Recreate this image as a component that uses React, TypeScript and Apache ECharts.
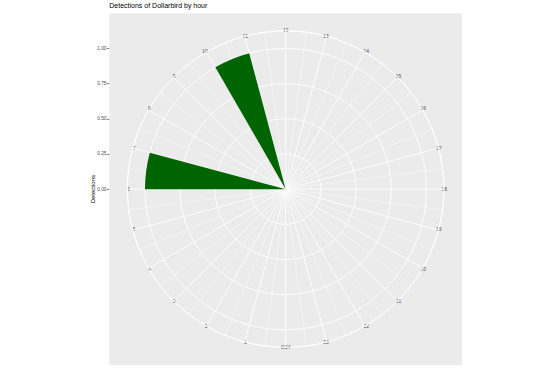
import React, { useEffect, useRef } from "react";
import * as echarts from "echarts";

// ---- data ----
const binStart = [6, 10];          // hour bins with detections
const detections = [1, 1];         // count per bin
const binWidth = 1;                // hours per bin
const hourMax = 24;
const radialBreaks = [0, 0.25, 0.5, 0.75, 1.0];
const titleText = "Detections of Dollarbird by hour";
const yTitle = "Detections";

const FONT = "Liberation Sans, Arial, Helvetica, sans-serif";

export default function App() {
  const ref = useRef<HTMLDivElement>(null);

  useEffect(() => {
    if (!ref.current) return;
    const chart = echarts.init(ref.current, null, { renderer: "svg" });

    const panel = { x: 109.3, y: 13.3, w: 352.7, h: 351.7 };
    const cx = panel.x + panel.w / 2;
    const cy = panel.y + panel.h / 2;
    const side = Math.min(panel.w, panel.h);
    const outerR = 0.45 * side;
    const dataR = 0.4 * side;
    const rMax = radialBreaks[radialBreaks.length - 1];

    const option: any = {
      animation: false,
      backgroundColor: "#ffffff",
      textStyle: { fontFamily: FONT },
      title: {
        text: titleText,
        left: panel.x,
        top: 2,
        padding: 0,
        textStyle: { fontSize: 7, fontWeight: "normal", color: "#000000", fontFamily: FONT },
      },
      graphic: [
        {
          type: "rect",
          z: -100,
          silent: true,
          shape: { x: panel.x, y: panel.y, width: panel.w, height: panel.h },
          style: { fill: "#EBEBEB" },
        },
        {
          type: "text",
          x: 93,
          y: cy,
          rotation: Math.PI / 2,
          silent: true,
          style: {
            text: yTitle,
            fontSize: 6,
            fontFamily: FONT,
            fill: "#000000",
            align: "center",
            verticalAlign: "middle",
          },
        },
      ],
      polar: {
        center: [cx, cy],
        radius: [0, outerR],
      },
      angleAxis: {
        type: "value",
        min: 0,
        max: hourMax,
        interval: 1,
        startAngle: 270,
        clockwise: true,
        axisLine: { show: true, lineStyle: { color: "#ffffff", width: 0.9 } },
        axisTick: { show: false },
        minorTick: { show: false, splitNumber: 2 },
        minorSplitLine: { show: true, lineStyle: { color: "#ffffff", width: 0.45 } },
        splitLine: { show: true, lineStyle: { color: "#ffffff", width: 0.9 } },
        axisLabel: {
          show: true,
          margin: -2.5,
          fontSize: 4.9,
          color: "#4D4D4D",
          fontFamily: FONT,
          formatter: (v: number) => (v === 0 ? "0/" + hourMax : v === hourMax ? "" : String(v)),
        },
      },
      radiusAxis: {
        type: "value",
        min: 0,
        max: (rMax * outerR) / dataR,
        interval: 0.25,
        axisLine: { show: false },
        axisTick: { show: false },
        axisLabel: { show: false },
        splitLine: { show: true, lineStyle: { color: "#ffffff", width: 0.9 } },
      },
      grid: {
        left: panel.x,
        top: cy - dataR,
        width: panel.w,
        height: dataR,
        show: false,
      },
      xAxis: { type: "value", show: false, min: 0, max: 1 },
      yAxis: {
        type: "value",
        min: 0,
        max: rMax,
        interval: 0.25,
        position: "left",
        axisLine: { show: false },
        axisTick: { show: true, length: 2.4, lineStyle: { color: "#333333", width: 0.6 } },
        splitLine: { show: false },
        axisLabel: {
          show: true,
          margin: 2.8,
          fontSize: 4.8,
          color: "#4D4D4D",
          fontFamily: FONT,
          formatter: (v: number) => v.toFixed(2),
        },
      },
      series: [
        {
          type: "bar",
          coordinateSystem: "polar",
          barWidth: (360 / hourMax) * binWidth,
          itemStyle: { color: "#006400" },
          z: 5,
          data: binStart.map((h, i) => [detections[i], h + binWidth / 2]),
        },
      ],
    };

    chart.setOption(option);
    return () => chart.dispose();
  }, []);

  return (
    <div
      ref={ref}
      style={{ position: "fixed", left: 0, top: 0, width: 553, height: 379 }}
    />
  );
}
